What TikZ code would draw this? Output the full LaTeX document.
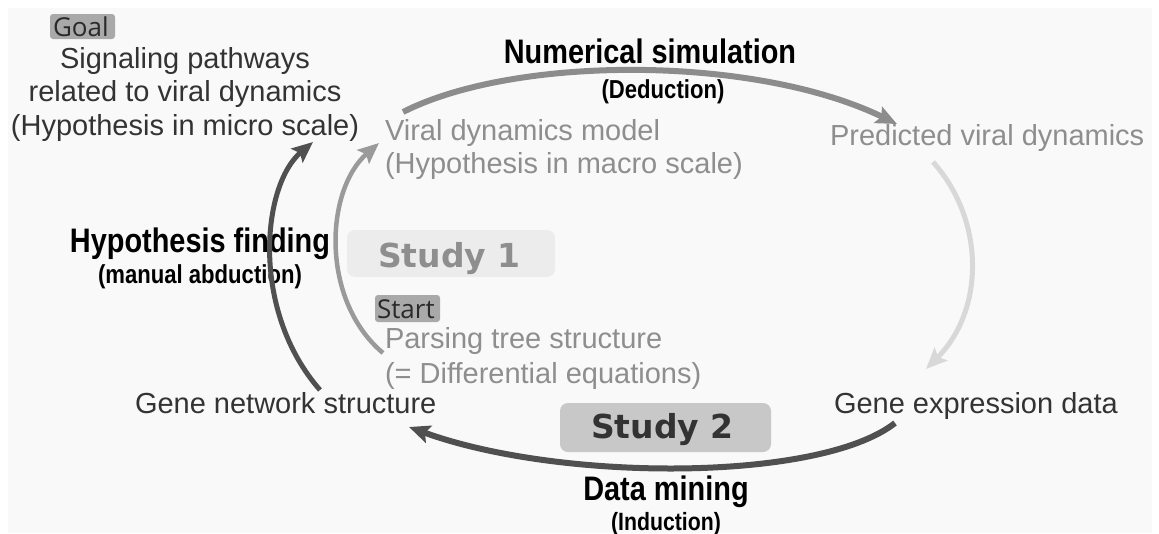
\documentclass[tikz,border=0pt]{standalone}
\usepackage{fontspec}
\setmainfont{Liberation Sans}
\newfontfamily\condfont[FakeStretch=0.85]{Liberation Sans}
\newfontfamily\tagfont{Open Sans}
\newfontfamily\studyfont{DejaVu Sans}
\usetikzlibrary{arrows.meta}
\definecolor{bgpanel}{HTML}{F9F9F9}
\definecolor{darktext}{HTML}{333333}
\definecolor{graytext}{HTML}{8E8E8E}
\definecolor{tagfill}{HTML}{A9A9A9}
\definecolor{studyonefill}{HTML}{ECECEC}
\definecolor{studytwofill}{HTML}{C8C8C8}
\definecolor{arrowmid}{HTML}{8C8C8C}
\definecolor{arrowlight}{HTML}{D8D8D8}
\definecolor{arrowdark}{HTML}{505050}
\definecolor{arrowgray}{HTML}{9A9A9A}
\tikzset{
  txt/.style={inner sep=0pt, outer sep=0pt, font=\fontsize{29}{33}\selectfont},
  darklbl/.style={txt, text=darktext},
  graylbl/.style={txt, text=graytext},
  steplbl/.style={inner sep=0pt, outer sep=0pt, text=black, font=\condfont\bfseries\fontsize{34}{38}\selectfont},
  substeplbl/.style={inner sep=0pt, outer sep=0pt, text=black, font=\condfont\bfseries\fontsize{26}{30}\selectfont},
  tagbox/.style={fill=tagfill, rounded corners=3pt},
  tagtxt/.style={inner sep=0pt, outer sep=0pt, text=darktext!80!black, font=\tagfont\fontsize{26}{30}\selectfont},
  studybox/.style={rounded corners=8pt},
  studytxt/.style={inner sep=0pt, outer sep=0pt, font=\studyfont\bfseries\fontsize{33}{38}\selectfont},
  flow/.style={line cap=butt, -{Stealth[length=21pt, width=18pt, inset=4pt]}},
}
\begin{document}
\begin{tikzpicture}[x=1pt, y=-1pt]
  % canvas
  \useasboundingbox (0,0) rectangle (1159,533);
  \fill[white] (0,0) rectangle (1159,533);
  \fill[bgpanel] (8,8) rectangle (1152,533);

  % study panels and tags
  \fill[studyonefill, studybox] (347,230) rectangle (555,277);
  \node[studytxt, text=graytext, anchor=base west] (study1) at (378,267) {Study 1};
  \fill[studytwofill, studybox] (560,403) rectangle (771,452);
  \node[studytxt, text=darktext, anchor=base west] (study2) at (591,438) {Study 2};

  \fill[tagbox] (50,14) rectangle (115,39);
  \node[tagtxt, anchor=base west] (goal) at (53,36) {Goal};
  \fill[tagbox] (375,295) rectangle (440,322);
  \node[tagtxt, anchor=base west] (start) at (377,318) {Start};

  % states of the cycle
  \node[darklbl, anchor=base] (sig1) at (185,68) {Signaling pathways};
  \node[darklbl, anchor=base] (sig2) at (185,101) {related to viral dynamics};
  \node[darklbl, anchor=base] (sig3) at (185,135) {(Hypothesis in micro scale)};

  \node[graylbl, anchor=base west] (model1) at (385,140) {Viral dynamics model};
  \node[graylbl, anchor=base west] (model2) at (385,173) {(Hypothesis in macro scale)};

  \node[graylbl, anchor=base west] (pred) at (830,145) {Predicted viral dynamics};

  \node[graylbl, anchor=base west] (parse1) at (385,348) {Parsing tree structure};
  \node[graylbl, anchor=base west] (parse2) at (385,383) {(= Differential equations)};

  \node[darklbl, anchor=base west] (genenet) at (135,413) {Gene network structure};
  \node[darklbl, anchor=base west] (geneexp) at (834,413) {Gene expression data};

  % step labels
  \node[steplbl, anchor=base] (numsim) at (650,63) {Numerical simulation};
  \node[substeplbl, anchor=base] (deduct) at (663,98) {(Deduction)};
  \node[steplbl, anchor=base] (hypfind) at (200,252) {Hypothesis finding};
  \node[substeplbl, anchor=base] (abduct) at (200,283) {(manual abduction)};
  \node[steplbl, anchor=base] (mining) at (666,500) {Data mining};
  \node[substeplbl, font=\condfont\bfseries\fontsize{25}{29}\selectfont, anchor=base] (induct) at (666,530) {(Induction)};

  % connector end points
  \coordinate (modelOut) at (403,112);
  \coordinate (predIn) at (897,124);
  \coordinate (predOut) at (933,162);
  \coordinate (expIn) at (926,369);
  \coordinate (expOut) at (895,423);
  \coordinate (netIn) at (409,427);
  \coordinate (netOut) at (320,390);
  \coordinate (sigIn) at (313,142);
  \coordinate (parseOut) at (383,353);
  \coordinate (modelIn) at (379,143);

  % cycle arrows
  \draw[flow, arrowmid, line width=6pt] (modelOut) .. controls (515,55) and (755,55) .. (predIn);
  \draw[flow, arrowlight, line width=5pt] (predOut) .. controls (985,220) and (985,310) .. (expIn);
  \draw[flow, arrowdark, line width=6pt] (expOut) .. controls (820,482) and (560,482) .. (netIn);
  \draw[flow, arrowdark, line width=5pt] (netOut) .. controls (250,310) and (262,185) .. (sigIn);
  \draw[flow, arrowgray, line width=4.5pt] (parseOut) .. controls (320,300) and (325,190) .. (modelIn);
\end{tikzpicture}
\end{document}
